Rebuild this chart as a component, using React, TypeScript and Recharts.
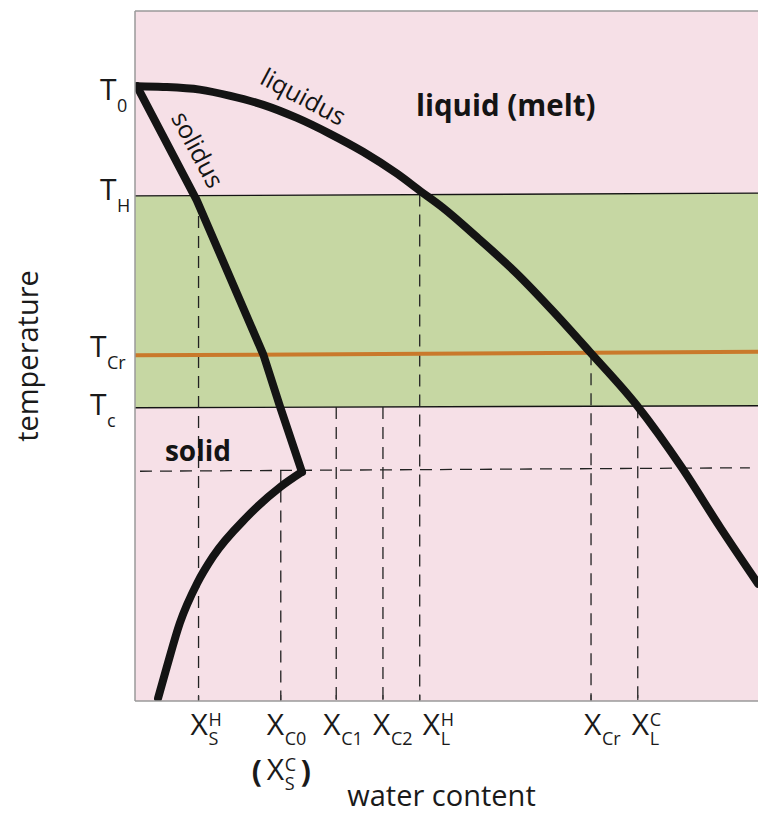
import React from 'react';
import { ComposedChart, Line, Area, XAxis, YAxis, CartesianGrid, ReferenceLine, ReferenceDot, Label } from 'recharts';

// phase boundaries: water content (0-100) against temperature (0-100)
const liquidusWc = [0.3, 4.5, 10.4, 15.3, 20.6, 26.0, 31.3, 36.6, 42.1, 45.8, 49.4, 55.4, 61.0, 67.4, 73.0, 80.6, 87.8, 93.9, 100];
const liquidusT = [89.1, 89.0, 88.6, 87.7, 86.4, 84.5, 82.2, 79.6, 76.4, 73.9, 71.5, 66.8, 62.2, 56.2, 50.6, 42.8, 33.8, 25.2, 17.0];
const solidusWc = [0.3, 9.9, 20.6, 23.3, 26.8];
const solidusT = [89.1, 72.6, 50.2, 42.6, 33.2];
const lowerWc = [3.7, 5.1, 7.2, 10.0, 12.5, 18.0, 23.3, 26.8];
const lowerT = [0.4, 4.9, 11.3, 17.1, 20.9, 26.7, 31.0, 33.2];

// horizontal levels (value at left edge, value at right edge)
const edgeWc = [0, 100];
const highT = [73.2, 73.6];
const critT = [50.1, 50.6];
const coolT = [42.5, 42.8];
const kinkWc = [0.8, 98.7];
const kinkT = [33.3, 33.8];

// vertical drop lines and their tick labels
const dropWc = [10.2, 23.4, 32.3, 39.8, 45.7, 73.2, 80.7];
const dropTopT = [73.2, 33.4, 42.6, 42.6, 73.4, 50.4, 42.7];
const xSubs = ['S', 'C0', 'C1', 'C2', 'L', 'Cr', 'L'];
const xSups = ['H', '', '', '', 'H', '', 'C'];

const yTicks = [89.1, 73.2, 50.1, 42.5];
const ySubs = ['0', 'H', 'Cr', 'c'];

const PINK = '#f6e0e7';
const GREEN = '#c6d7a3';
const ORANGE = '#c9792b';
const INK = '#141414';
const FONT = '"Open Sans", sans-serif';

const xLabelShift = [-8, -14, -13, -10, 3, -7, -6];
const yLabelShift = [-35, -35, -45, -45];
const yBaseShift = [14, 4, 2, 7];

const pts = (wcs: number[], ts: number[]) => wcs.map((wc, i) => ({ wc, t: ts[i] }));
const band = edgeWc.map((wc, i) => ({ wc, band: [coolT[i], highT[i]] }));

function WaterTick(props: any) {
  const { x, y, index } = props;
  const left = x + xLabelShift[index];
  const txt = { fontFamily: FONT, fill: '#1a1a1a' };
  return (
    <g>
      <line x1={x} x2={x} y1={y - 6} y2={y - 1} stroke="#333" strokeWidth={1.2} />
      <text x={left} y={y + 34} fontSize={30} {...txt}>X</text>
      <text x={left + 18} y={y + 44} fontSize={18} {...txt}>{xSubs[index]}</text>
      {xSups[index] && <text x={left + 18} y={y + 25} fontSize={18} {...txt}>{xSups[index]}</text>}
      {index === 1 && (
        <g>
          <text x={left - 15} y={y + 81} fontSize={30} fontWeight="bold" {...txt}>(</text>
          <text x={left} y={y + 79} fontSize={30} {...txt}>X</text>
          <text x={left + 18} y={y + 89} fontSize={18} {...txt}>S</text>
          <text x={left + 18} y={y + 70} fontSize={18} {...txt}>C</text>
          <text x={left + 34} y={y + 81} fontSize={30} fontWeight="bold" {...txt}>)</text>
        </g>
      )}
    </g>
  );
}

function TempTick(props: any) {
  const { x, y, index } = props;
  const left = x + yLabelShift[index];
  const base = y + yBaseShift[index];
  return (
    <g fontFamily={FONT} fill="#1a1a1a">
      <text x={left} y={base} fontSize={30}>T</text>
      <text x={left + 17} y={base + 12} fontSize={18}>{ySubs[index]}</text>
    </g>
  );
}

const textAt = (value: string, size: number, angle = 0, weight = 'normal') => (props: any) => {
  const { viewBox } = props;
  const cx = viewBox.x + viewBox.width / 2;
  const cy = viewBox.y + viewBox.height / 2;
  return (
    <text x={cx} y={cy} textAnchor="middle" dominantBaseline="central" fontSize={size} fontWeight={weight}
      fontFamily={FONT} fill="#141414" transform={`rotate(${angle} ${cx} ${cy})`}>{value}</text>
  );
};

const curveProps = {
  dataKey: 't', type: 'monotone' as const, stroke: INK, strokeWidth: 8, strokeLinecap: 'round' as const,
  strokeLinejoin: 'round' as const, dot: false, activeDot: false, isAnimationActive: false,
};

export default function App() {
  return (
    <div style={{ position: 'absolute', left: 0, top: 0, background: '#fff' }}>
      <ComposedChart width={758} height={813} margin={{ top: 11, right: 0, bottom: 0, left: 0 }}>
        <CartesianGrid fill={PINK} horizontal={false} vertical={false} />
        <XAxis dataKey="wc" type="number" domain={[0, 100]} allowDataOverflow ticks={dropWc} interval={0}
          tick={<WaterTick />} tickLine={false} tickSize={0} tickMargin={0} height={112}
          axisLine={{ stroke: '#9a9a9a', strokeWidth: 1.5 }}>
          <Label content={(p: any) => (
            <text x={p.viewBox.x + p.viewBox.width / 2 - 5} y={p.viewBox.y + 105} textAnchor="middle"
              fontSize={29} fontFamily={FONT} fill="#1a1a1a">water content</text>
          )} />
        </XAxis>
        <YAxis type="number" domain={[0, 100]} allowDataOverflow ticks={yTicks} interval={0}
          tick={<TempTick />} tickLine={false} tickSize={0} tickMargin={0} width={135}
          axisLine={{ stroke: '#9a9a9a', strokeWidth: 1.5 }}>
          <Label content={(p: any) => {
            const cx = 26;
            const cy = p.viewBox.y + p.viewBox.height / 2;
            return (
              <text x={cx} y={cy} textAnchor="middle" dominantBaseline="central" fontSize={29} fontFamily={FONT}
                fill="#1a1a1a" transform={`rotate(-90 ${cx} ${cy})`}>temperature</text>
            );
          }} />
        </YAxis>
        <ReferenceLine y={100} stroke="#9a9a9a" strokeWidth={1.5} />

        <Area data={band} dataKey="band" type="linear" stroke="none" fill={GREEN} fillOpacity={1}
          dot={false} activeDot={false} isAnimationActive={false} />
        <Line data={pts(edgeWc, highT)} dataKey="t" type="linear" stroke={INK} strokeWidth={1.4} dot={false} activeDot={false} isAnimationActive={false} />
        <Line data={pts(edgeWc, coolT)} dataKey="t" type="linear" stroke={INK} strokeWidth={1.4} dot={false} activeDot={false} isAnimationActive={false} />
        <Line data={pts(kinkWc, kinkT)} dataKey="t" type="linear" stroke="#222" strokeWidth={1.3} strokeDasharray="12 8"
          dot={false} activeDot={false} isAnimationActive={false} />
        {dropWc.map((wc, i) => (
          <Line key={i} data={[{ wc, t: dropTopT[i] }, { wc, t: 0 }]} dataKey="t" type="linear" stroke="#222"
            strokeWidth={1.3} strokeDasharray="12 8" dot={false} activeDot={false} isAnimationActive={false} />
        ))}
        <Line data={pts(edgeWc, critT)} dataKey="t" type="linear" stroke={ORANGE} strokeWidth={4} dot={false} activeDot={false} isAnimationActive={false} />
        <Line data={pts(lowerWc, lowerT)} {...curveProps} />
        <Line data={pts(solidusWc, solidusT)} {...curveProps} type="linear" />
        <Line data={pts(liquidusWc, liquidusT)} {...curveProps} />

        <ReferenceDot x={59.5} y={86.4} r={0} stroke="none" label={{ content: textAt('liquid (melt)', 29.5, 0, 'bold') }} />
        <ReferenceDot x={10.1} y={36.4} r={0} stroke="none" label={{ content: textAt('solid', 28, 0, 'bold') }} />
        <ReferenceDot x={27.1} y={87.7} r={0} stroke="none" label={{ content: textAt('liquidus', 25, 28) }} />
        <ReferenceDot x={10.2} y={80.0} r={0} stroke="none" label={{ content: textAt('solidus', 25, 62) }} />
      </ComposedChart>
    </div>
  );
}
